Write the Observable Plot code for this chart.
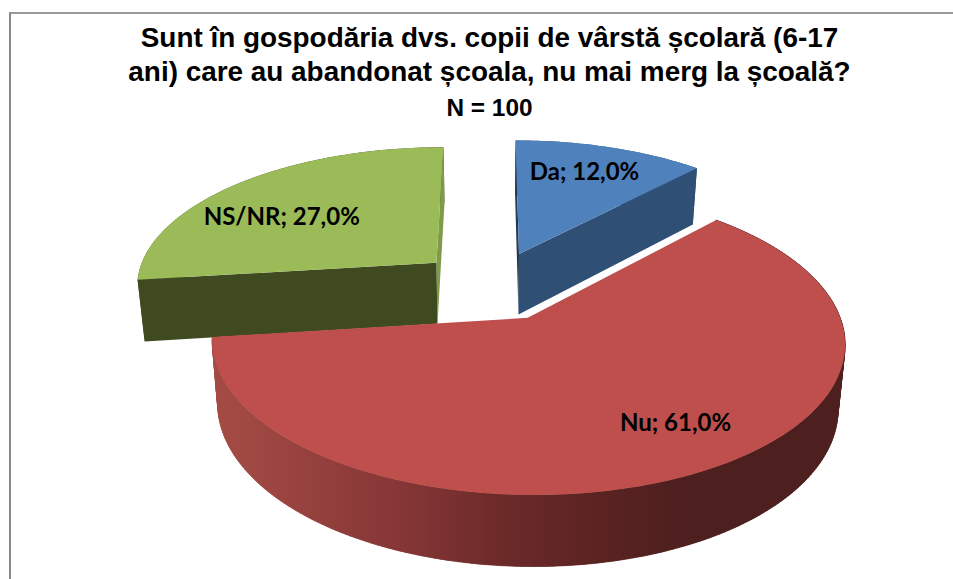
<!DOCTYPE html>
<html lang="ro">
<head>
<meta charset="utf-8">
<script src="https://cdn.jsdelivr.net/npm/d3@7"></script>
<script src="https://cdn.jsdelivr.net/npm/@observablehq/plot@0.6"></script>
<style>
html,body{margin:0;padding:0;background:#fff;overflow:hidden;width:953px;height:579px}
#frame{position:absolute;left:9px;top:12px;width:944px;height:567px;border-left:2px solid #888;border-top:2px solid #999;box-sizing:border-box}
#title{position:absolute;left:0;top:21px;width:979px;text-align:center;font-family:"Liberation Sans",Arial,sans-serif;font-weight:700;color:#000;white-space:pre}
#title .t{font-size:27.9px;line-height:34px}
#title .n{font-size:24.4px;line-height:34px;margin-top:2px}
#chart{position:absolute;left:0;top:125px}
#chart svg{display:block;background:transparent}
</style>
</head>
<body>
<div id="frame"></div>
<div id="title"><div class="t">Sunt în gospodăria dvs. copii de vârstă școlară (6-17
ani) care au abandonat școala, nu mai merg la școală?</div><div class="n">N = 100</div></div>
<div id="chart"></div>
<script>
// Data
const categories = ["Da", "Nu", "NS/NR"];
const values = [12, 61, 27];
const valueLabels = ["12,0%", "61,0%", "27,0%"];
const topColors = ["#4f81bd", "#be4f4c", "#9bbb59"];
const wallColors = ["#2f4f74", "url(#redWall)", "#3f4a21"];

// Projection of the 3D pie
const R = 302, explode = 76, P = 0.0005, K = 0.4619, X0 = 491.5, Y0 = 285, H = 62;
const labelAngle = [20.6, 146.4, 303.2], labelRadius = [0.74, 0.76, 0.66];
const labelShift = [-1, -2, -3];
const rad = d => d * Math.PI / 180;
function project(X, Y, z) {
  const D = 1 - P * Y;
  const lean = 1 - 0.02 * z;
  return {
    x: X0 + (X / D) * lean,
    y: Y0 + K * Y / D + z * H / Math.pow(D, 0.7)
  };
}
const total = d3.sum(values);
let acc = 0;
const slices = values.map((v, i) => {
  const a0 = acc / total * 360; acc += v;
  const a1 = acc / total * 360;
  const mid = (a0 + a1) / 2;
  return {i, a0, a1, cx: explode * Math.sin(rad(mid)), cy: -explode * Math.cos(rad(mid))};
});
const rim = (s, a) => [s.cx + R * Math.sin(rad(a)), s.cy - R * Math.cos(rad(a))];
function arcAngles(a0, a1) {
  const n = Math.ceil(a1 - a0);
  return d3.range(n + 1).map(k => a0 + (a1 - a0) * k / n);
}
function poly(id, pts) { return pts.map(p => ({id, ...project(p[0], p[1], p[2])})); }
function topFace(s) {
  return poly("top" + s.i, [[s.cx, s.cy, 0], ...arcAngles(s.a0, s.a1).map(a => [...rim(s, a), 0])]);
}
function arcWall(s) {
  const as = arcAngles(s.a0, s.a1);
  return poly("arc" + s.i, [...as.map(a => [...rim(s, a), 0]), ...as.slice().reverse().map(a => [...rim(s, a), 1])]);
}
// one quad per degree: their union is the whole swept side, tangent edges included
function arcQuads(s) {
  const as = arcAngles(s.a0, s.a1);
  return as.slice(1).flatMap((a, k) => {
    const p = as[k];
    return poly("q" + k, [[...rim(s, p), 0], [...rim(s, a), 0], [...rim(s, a), 1], [...rim(s, p), 1]]);
  });
}
function radialWall(s, a, tag) {
  const r = rim(s, a);
  return poly(tag + s.i, [[s.cx, s.cy, 0], [...r, 0], [...r, 1], [s.cx, s.cy, 1]]);
}
const fillLine = (pts, fill) => Plot.line(pts, {x: "x", y: "y", z: "id", fill, stroke: "none", curve: "linear-closed"});

// Green sits at the back-left, then blue, and red in front
const greenMarks = (s => [
  fillLine(arcWall(s), wallColors[2]),
  fillLine(radialWall(s, s.a1, "w1"), "#7f9a48"),
  fillLine(radialWall(s, s.a0, "w0"), wallColors[2]),
  fillLine(topFace(s), topColors[2])
])(slices[2]);
const blueMarks = (s => [
  fillLine(arcWall(s), wallColors[0]),
  fillLine(radialWall(s, s.a0, "w0"), "#233b57"),
  fillLine(radialWall(s, s.a1, "w1"), wallColors[0]),
  fillLine(topFace(s), topColors[0])
])(slices[0]);
const redMarks = (s => [
  fillLine(arcWall(s), wallColors[1]),
  Plot.line(arcQuads(s), {x: "x", y: "y", z: "id", fill: wallColors[1], stroke: wallColors[1], strokeWidth: 0.6, curve: "linear-closed"}),
  fillLine(topFace(s), topColors[1])
])(slices[1]);

const labels = slices.map(s => {
  const a = labelAngle[s.i], r = labelRadius[s.i] * R;
  const p = project(s.cx + r * Math.sin(rad(a)), s.cy - r * Math.cos(rad(a)), 0);
  return {x: p.x + labelShift[s.i], y: p.y, text: categories[s.i] + "; " + valueLabels[s.i]};
});

function gradientDefs() {
  const ns = "http://www.w3.org/2000/svg";
  const defs = document.createElementNS(ns, "defs");
  const g = document.createElementNS(ns, "linearGradient");
  g.setAttribute("id", "redWall");
  g.setAttribute("gradientUnits", "userSpaceOnUse");
  g.setAttribute("x1", 212); g.setAttribute("x2", 846);
  g.setAttribute("y1", 0); g.setAttribute("y2", 0);
  [[0.03, "#a34a44"], [0.30, "#853636"], [0.455, "#6c2a29"], [0.61, "#5a2322"], [0.75, "#4d1f1e"]].forEach(([o, c]) => {
    const st = document.createElementNS(ns, "stop");
    st.setAttribute("offset", o); st.setAttribute("stop-color", c);
    g.appendChild(st);
  });
  defs.appendChild(g);
  return defs;
}

const plot = Plot.plot({
  width: 953,
  height: 454,
  margin: 0,
  x: {domain: [0, 953], range: [0, 953], axis: null},
  y: {domain: [125, 579], range: [0, 454], axis: null},
  marks: [
    gradientDefs,
    ...greenMarks,
    ...blueMarks,
    ...redMarks,
    Plot.text(labels, {
      x: "x", y: "y", text: "text",
      fontFamily: "Lato, 'Open Sans', sans-serif",
      fontWeight: 700, fontSize: 24, fill: "#000"
    })
  ]
});
document.getElementById("chart").appendChild(plot);
</script>
</body>
</html>
